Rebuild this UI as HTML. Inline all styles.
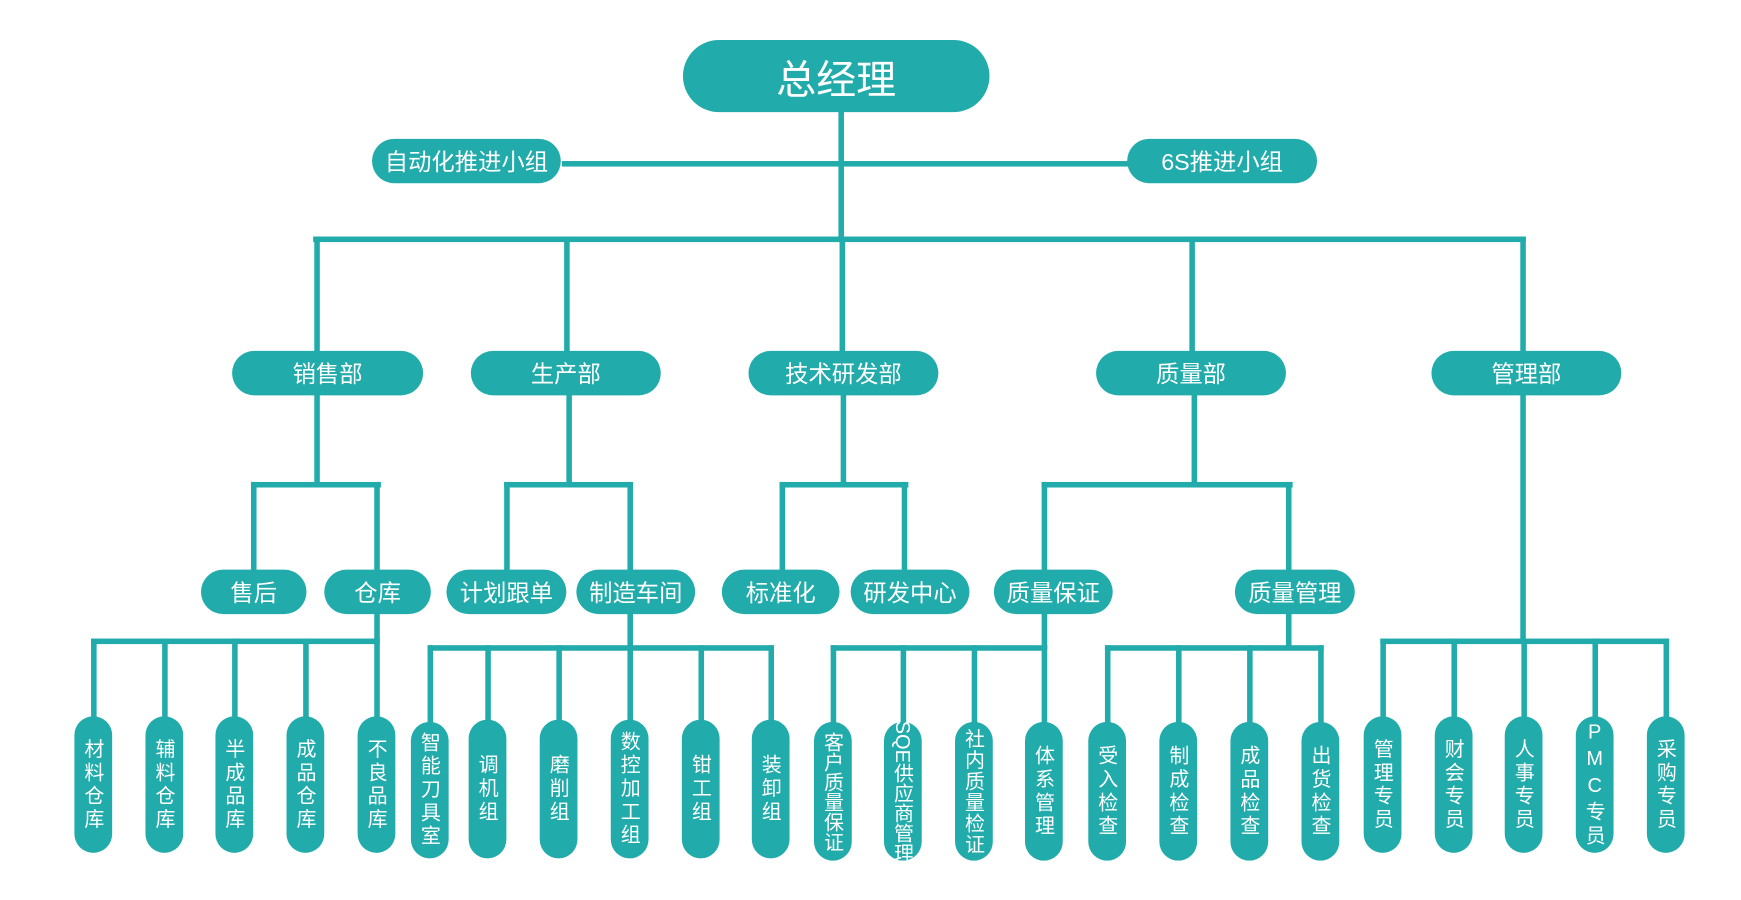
<!DOCTYPE html>
<html><head><meta charset="utf-8"><style>
html,body{margin:0;padding:0;background:#fff;width:1741px;height:900px;overflow:hidden}
#w{position:absolute;left:0;top:0;width:1560px;height:806px;transform:scale(1.1105);transform-origin:0 0;font-family:"Liberation Sans","Noto Sans CJK SC",sans-serif}
.l{position:absolute;background:#22abab}
.p{position:absolute;background:#22abab;color:#fff;display:flex;align-items:center;justify-content:center;white-space:nowrap}
.h{border-radius:20px;font-size:21px;height:40px}
.v{width:34px;border-radius:17px;font-size:18px}
.v span{writing-mode:vertical-rl;text-orientation:upright;line-height:1;letter-spacing:3px}
.v span.m{text-orientation:mixed;letter-spacing:0}
</style></head><body><div id="w">
<div class="l" style="left:755px;top:100px;width:5px;height:118px"></div>
<div class="l" style="left:506px;top:145px;width:512px;height:5px"></div>
<div class="l" style="left:282px;top:213px;width:1092px;height:5px"></div>
<div class="p" style="left:615px;top:36px;width:276px;height:65px;border-radius:33px;font-size:36px">总经理</div>
<div class="p h" style="left:335px;top:125px;width:170px">自动化推进小组</div>
<div class="p h" style="left:1015px;top:125px;width:171px">6S推进小组</div>
<div class="l" style="left:283px;top:213px;width:5px;height:104px"></div>
<div class="l" style="left:508px;top:213px;width:5px;height:104px"></div>
<div class="l" style="left:756px;top:213px;width:5px;height:104px"></div>
<div class="l" style="left:1071px;top:213px;width:5px;height:104px"></div>
<div class="l" style="left:1369px;top:213px;width:5px;height:104px"></div>
<div class="p h" style="left:209px;top:316px;width:172px">销售部</div>
<div class="p h" style="left:424px;top:316px;width:171px">生产部</div>
<div class="p h" style="left:674px;top:316px;width:171px">技术研发部</div>
<div class="p h" style="left:987px;top:316px;width:171px">质量部</div>
<div class="p h" style="left:1289px;top:316px;width:171px">管理部</div>
<div class="l" style="left:283px;top:355px;width:5px;height:82px"></div>
<div class="l" style="left:226px;top:434px;width:117px;height:5px"></div>
<div class="l" style="left:226px;top:434px;width:5px;height:80px"></div>
<div class="l" style="left:337px;top:434px;width:5px;height:80px"></div>
<div class="l" style="left:510px;top:355px;width:5px;height:82px"></div>
<div class="l" style="left:454px;top:434px;width:116px;height:5px"></div>
<div class="l" style="left:454px;top:434px;width:5px;height:80px"></div>
<div class="l" style="left:565px;top:434px;width:5px;height:80px"></div>
<div class="l" style="left:757px;top:355px;width:5px;height:82px"></div>
<div class="l" style="left:702px;top:434px;width:116px;height:5px"></div>
<div class="l" style="left:702px;top:434px;width:5px;height:80px"></div>
<div class="l" style="left:812px;top:434px;width:5px;height:80px"></div>
<div class="l" style="left:1073px;top:355px;width:5px;height:82px"></div>
<div class="l" style="left:938px;top:434px;width:226px;height:5px"></div>
<div class="l" style="left:938px;top:434px;width:5px;height:80px"></div>
<div class="l" style="left:1158px;top:434px;width:5px;height:80px"></div>
<div class="l" style="left:1369px;top:355px;width:5px;height:224px"></div>
<div class="p h" style="left:181px;top:513px;width:95px">售后</div>
<div class="p h" style="left:292px;top:513px;width:96px">仓库</div>
<div class="p h" style="left:402px;top:513px;width:108px">计划跟单</div>
<div class="p h" style="left:519px;top:513px;width:107px">制造车间</div>
<div class="p h" style="left:650px;top:513px;width:106px">标准化</div>
<div class="p h" style="left:766px;top:513px;width:107px">研发中心</div>
<div class="p h" style="left:895px;top:513px;width:107px">质量保证</div>
<div class="p h" style="left:1112px;top:513px;width:108px">质量管理</div>
<div class="l" style="left:337px;top:552px;width:5px;height:25px"></div>
<div class="l" style="left:82px;top:575px;width:260px;height:5px"></div>
<div class="l" style="left:82px;top:575px;width:5px;height:72px"></div>
<div class="l" style="left:146px;top:575px;width:5px;height:72px"></div>
<div class="l" style="left:209px;top:575px;width:5px;height:72px"></div>
<div class="l" style="left:273px;top:575px;width:5px;height:72px"></div>
<div class="l" style="left:337px;top:575px;width:5px;height:72px"></div>
<div class="l" style="left:565px;top:552px;width:5px;height:32px"></div>
<div class="l" style="left:385px;top:581px;width:312px;height:5px"></div>
<div class="l" style="left:385px;top:581px;width:5px;height:70px"></div>
<div class="l" style="left:437px;top:581px;width:5px;height:70px"></div>
<div class="l" style="left:501px;top:581px;width:5px;height:70px"></div>
<div class="l" style="left:565px;top:581px;width:5px;height:70px"></div>
<div class="l" style="left:629px;top:581px;width:5px;height:70px"></div>
<div class="l" style="left:692px;top:581px;width:5px;height:70px"></div>
<div class="l" style="left:938px;top:552px;width:5px;height:32px"></div>
<div class="l" style="left:748px;top:581px;width:195px;height:5px"></div>
<div class="l" style="left:748px;top:581px;width:5px;height:72px"></div>
<div class="l" style="left:811px;top:581px;width:5px;height:72px"></div>
<div class="l" style="left:875px;top:581px;width:5px;height:72px"></div>
<div class="l" style="left:938px;top:581px;width:5px;height:72px"></div>
<div class="l" style="left:1158px;top:552px;width:5px;height:32px"></div>
<div class="l" style="left:995px;top:581px;width:197px;height:5px"></div>
<div class="l" style="left:995px;top:581px;width:5px;height:72px"></div>
<div class="l" style="left:1059px;top:581px;width:5px;height:72px"></div>
<div class="l" style="left:1123px;top:581px;width:5px;height:72px"></div>
<div class="l" style="left:1187px;top:581px;width:5px;height:72px"></div>
<div class="l" style="left:1243px;top:575px;width:260px;height:5px"></div>
<div class="l" style="left:1243px;top:575px;width:5px;height:72px"></div>
<div class="l" style="left:1307px;top:575px;width:5px;height:72px"></div>
<div class="l" style="left:1370px;top:575px;width:5px;height:72px"></div>
<div class="l" style="left:1434px;top:575px;width:5px;height:72px"></div>
<div class="l" style="left:1498px;top:575px;width:5px;height:72px"></div>
<div class="p v" style="left:67px;top:645px;height:123px"><span>材料仓库</span></div>
<div class="p v" style="left:131px;top:645px;height:123px"><span>辅料仓库</span></div>
<div class="p v" style="left:194px;top:645px;height:123px"><span>半成品库</span></div>
<div class="p v" style="left:258px;top:645px;height:123px"><span>成品仓库</span></div>
<div class="p v" style="left:322px;top:645px;height:123px"><span>不良品库</span></div>
<div class="p v" style="left:370px;top:650px;height:123px"><span>智能刀具室</span></div>
<div class="p v" style="left:422px;top:648px;height:125px"><span>调机组</span></div>
<div class="p v" style="left:486px;top:648px;height:125px"><span>磨削组</span></div>
<div class="p v" style="left:550px;top:648px;height:125px"><span>数控加工组</span></div>
<div class="p v" style="left:614px;top:648px;height:125px"><span>钳工组</span></div>
<div class="p v" style="left:677px;top:648px;height:125px"><span>装卸组</span></div>
<div class="p v" style="left:733px;top:650px;height:125px"><span style="letter-spacing:0">客户质量保证</span></div>
<div class="p v" style="left:796px;top:650px;height:125px"><span class="m">SQE供应商管理</span></div>
<div class="p v" style="left:860px;top:650px;height:125px"><span style="letter-spacing:1px">社内质量检证</span></div>
<div class="p v" style="left:923px;top:650px;height:125px"><span>体系管理</span></div>
<div class="p v" style="left:980px;top:650px;height:125px"><span>受入检查</span></div>
<div class="p v" style="left:1044px;top:650px;height:125px"><span>制成检查</span></div>
<div class="p v" style="left:1108px;top:650px;height:125px"><span>成品检查</span></div>
<div class="p v" style="left:1172px;top:650px;height:125px"><span>出货检查</span></div>
<div class="p v" style="left:1228px;top:645px;height:123px"><span>管理专员</span></div>
<div class="p v" style="left:1292px;top:645px;height:123px"><span>财会专员</span></div>
<div class="p v" style="left:1355px;top:645px;height:123px"><span>人事专员</span></div>
<div class="p v" style="left:1419px;top:645px;height:123px"><span style="letter-spacing:4px">PMC专员</span></div>
<div class="p v" style="left:1483px;top:645px;height:123px"><span>采购专员</span></div>
</div></body></html>
